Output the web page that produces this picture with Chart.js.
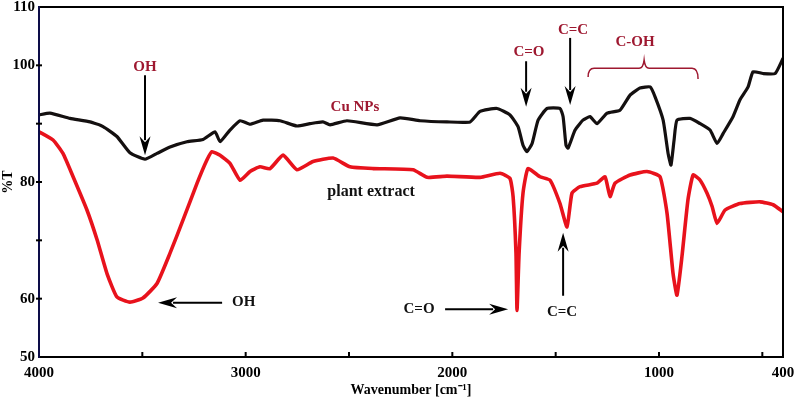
<!DOCTYPE html>
<html>
<head>
<meta charset="utf-8">
<script src="https://cdn.jsdelivr.net/npm/chart.js@4"></script>
<style>
html,body{margin:0;padding:0;background:#fff;}
canvas{display:block;}
</style>
</head>
<body>
<canvas id="c" width="794" height="399"></canvas>
<script>
// ---- data ----
const cuWavenumber = [4000,3947,3850,3753,3690,3623,3560,3487,3429,3366,3284,3206,3148,3124,3076,3027,2979,2916,2834,2752,2689,2626,2592,2510,2364,2253,2156,2026,1914,1866,1784,1721,1682,1658,1639,1614,1585,1542,1479,1464,1450,1440,1406,1368,1334,1300,1251,1189,1140,1092,1043,1019,980,956,942,927,913,850,801,753,719,690,642,608,569,545,497,438,400];
const cuTransmittance = [91.5,91.8,90.9,90.3,89.5,87.8,85.0,83.9,84.9,86.0,86.9,87.3,88.6,86.9,88.9,90.5,89.9,90.6,90.5,89.6,90.0,90.3,89.8,90.5,89.8,91.0,90.5,90.3,90.3,92.1,92.6,91.5,89.5,86.3,85.2,86.6,90.6,92.6,92.6,91.2,86.3,85.8,88.9,90.6,91.2,90.0,91.8,92.3,94.9,96.1,96.3,94.6,90.6,84.9,82.9,87.2,90.6,90.9,90.0,88.9,86.6,88.3,91.2,94.1,96.3,98.9,98.6,98.6,101.2];

const plantWavenumber = [4000,3932,3884,3835,3768,3719,3671,3623,3560,3497,3429,3366,3303,3235,3187,3163,3124,3076,3027,2979,2931,2882,2819,2752,2674,2577,2495,2384,2190,2122,2026,1866,1769,1721,1706,1692,1687,1677,1658,1634,1576,1527,1479,1445,1421,1382,1300,1261,1237,1213,1140,1058,995,961,932,913,889,860,835,801,768,743,719,680,608,511,448,400];
const plantTransmittance = [88.6,87.2,84.9,80.9,75.2,70.1,64.3,60.3,59.4,60.1,62.6,67.8,73.5,79.8,83.8,85.2,84.6,83.2,80.3,81.8,82.6,82.3,84.6,82.1,83.5,84.1,82.6,82.3,82.1,80.8,81.0,80.8,81.5,80.6,77.5,67.8,58.0,67.8,78.1,82.3,80.9,80.3,76.3,72.3,78.1,79.2,79.8,80.9,77.5,79.8,81.2,81.8,80.9,74.6,64.3,60.6,67.2,76.9,81.2,80.3,78.1,75.8,72.9,75.2,76.3,76.6,76.1,74.9];

const xTickValues = [4000,3500,3000,2500,2000,1500,1000,500,400];
const xTickLabels = [4000,3000,2000,1000,400];
const yTickLabels = [50,60,80,100,110];

const seriesNames = ['Cu NPs','plant extract'];

// annotations in data units (wavenumber, %T)
const textNotes = [
  {text:'OH', x:3487, y:99.7, color:'#9e1830', align:'center'},
  {text:'Cu NPs', x:2471, y:92.9, color:'#9e1830', align:'center'},
  {text:'plant extract', x:2393, y:78.3, color:'#111', align:'center', size:16},
  {text:'OH', x:3066, y:59.4, color:'#111', align:'left'},
  {text:'C=O', x:2161, y:58.2, color:'#111', align:'center'},
  {text:'C=C', x:1469, y:57.7, color:'#111', align:'center'},
  {text:'C=O', x:1629, y:102.3, color:'#9e1830', align:'center'},
  {text:'C=C', x:1416, y:106.1, color:'#9e1830', align:'center'},
  {text:'C-OH', x:1116, y:104.0, color:'#9e1830', align:'center'}
];
const arrowNotes = [
  {x1:3487, y1:98.3, x2:3487, y2:84.6},
  {x1:3114, y1:59.3, x2:3424, y2:59.3},
  {x1:2035, y1:58.2, x2:1730, y2:58.2},
  {x1:1464, y1:60.5, x2:1464, y2:71.3},
  {x1:1643, y1:100.7, x2:1643, y2:92.9},
  {x1:1430, y1:104.7, x2:1430, y2:93.2}
];
const braceNote = {left:1343, right:811, mid:1072, y:99.5, end:98.0, peak:100.9};

const toPoints = (xs, ys) => xs.map((x,i)=>({x:x, y:ys[i]}));

const FONT = '"Liberation Serif", "Times New Roman", serif';

const notesPlugin = {
  id:'notes',
  afterDraw(chart){
    const ctx = chart.ctx, xs = chart.scales.x, ys = chart.scales.y;
    const a = chart.chartArea;
    ctx.save();
    // frame
    ctx.lineWidth = 2;
    ctx.strokeStyle = '#000';
    ctx.beginPath();
    ctx.moveTo(a.left, a.top); ctx.lineTo(a.right, a.top); ctx.lineTo(a.right, a.bottom); ctx.lineTo(a.left, a.bottom);
    ctx.stroke();
    ctx.strokeStyle = '#0d0d48';
    ctx.beginPath(); ctx.moveTo(a.left, a.top-1); ctx.lineTo(a.left, a.bottom+1); ctx.stroke();
    // inward ticks
    ctx.strokeStyle = '#000';
    ctx.lineWidth = 2;
    xs.ticks.forEach(t=>{
      const px = xs.getPixelForValue(t.value);
      if (px <= a.left+2 || px >= a.right-2) return;
      ctx.beginPath(); ctx.moveTo(px, a.bottom); ctx.lineTo(px, a.bottom-5); ctx.stroke();
    });
    ys.ticks.forEach(t=>{
      const py = ys.getPixelForValue(t.value);
      if (py <= a.top+2 || py >= a.bottom-2) return;
      ctx.beginPath(); ctx.moveTo(a.left-3, py); ctx.lineTo(a.left+3, py); ctx.stroke();
    });
    // texts
    ctx.textBaseline = 'middle';
    textNotes.forEach(n=>{
      ctx.font = 'bold ' + (n.size||15) + 'px ' + FONT;
      ctx.fillStyle = n.color;
      ctx.textAlign = n.align;
      ctx.fillText(n.text, xs.getPixelForValue(n.x), ys.getPixelForValue(n.y));
    });
    // arrows
    ctx.strokeStyle = '#000'; ctx.fillStyle = '#000'; ctx.lineWidth = 2;
    arrowNotes.forEach(n=>{
      const x1 = xs.getPixelForValue(n.x1), y1 = ys.getPixelForValue(n.y1);
      const x2 = xs.getPixelForValue(n.x2), y2 = ys.getPixelForValue(n.y2);
      const ang = Math.atan2(y2-y1, x2-x1);
      const L = 19, W = 5.5;
      const bx = x2 - L*Math.cos(ang), by = y2 - L*Math.sin(ang);
      ctx.beginPath(); ctx.moveTo(x1,y1); ctx.lineTo(bx + 4*Math.cos(ang), by + 4*Math.sin(ang)); ctx.stroke();
      ctx.beginPath();
      ctx.moveTo(x2,y2);
      ctx.lineTo(bx - W*Math.sin(ang), by + W*Math.cos(ang));
      ctx.lineTo(bx + 6*Math.cos(ang), by + 6*Math.sin(ang));
      ctx.lineTo(bx + W*Math.sin(ang), by - W*Math.cos(ang));
      ctx.closePath(); ctx.fill();
    });
    // brace
    const bl = xs.getPixelForValue(braceNote.left), br = xs.getPixelForValue(braceNote.right);
    const bm = xs.getPixelForValue(braceNote.mid);
    const by = ys.getPixelForValue(braceNote.y), be = ys.getPixelForValue(braceNote.end), bp = ys.getPixelForValue(braceNote.peak);
    ctx.strokeStyle = '#9e1830'; ctx.lineWidth = 1.5;
    ctx.beginPath();
    ctx.moveTo(bl, be);
    ctx.quadraticCurveTo(bl, by, bl+6, by);
    ctx.lineTo(bm-5, by);
    ctx.quadraticCurveTo(bm-1, by, bm, bp);
    ctx.quadraticCurveTo(bm+1, by, bm+5, by);
    ctx.lineTo(br-6, by);
    ctx.quadraticCurveTo(br, by, br, be+2);
    ctx.stroke();
    ctx.restore();
  }
};

new Chart(document.getElementById('c'), {
  type:'line',
  data:{
    datasets:[
      {label:seriesNames[0], data:toPoints(cuWavenumber, cuTransmittance), borderColor:'#141010', borderWidth:3.2, pointRadius:0, tension:0.15, fill:false},
      {label:seriesNames[1], data:toPoints(plantWavenumber, plantTransmittance), borderColor:'#e8121c', borderWidth:3.6, pointRadius:0, tension:0.15, fill:false}
    ]
  },
  options:{
    responsive:false,
    animation:false,
    devicePixelRatio:1,
    layout:{padding:{left:0, right:11, top:7, bottom:0}},
    plugins:{legend:{display:false}, tooltip:{enabled:false}},
    scales:{
      x:{
        type:'linear', reverse:true, min:400, max:4000,
        afterBuildTicks(s){ s.ticks = xTickValues.map(v=>({value:v})); },
        afterFit(s){ s.height = 42; s.paddingLeft = 0; s.paddingRight = 0; },
        grid:{display:false, drawTicks:false},
        border:{display:false},
        ticks:{
          autoSkip:false, maxRotation:0, padding:7, color:'#000',
          font:{family:FONT, size:15, weight:'bold'},
          callback:(v)=> xTickLabels.includes(v) ? String(v) : ''
        },
        title:{display:true, text:'Wavenumber [cm\u207B\u00B9]', color:'#000', padding:{top:0,bottom:0}, font:{family:FONT, size:14, weight:'bold'}}
      },
      y:{
        type:'linear', min:50, max:110,
        afterBuildTicks(s){ const t=[]; for(let v=50; v<=110; v+=10) t.push({value:v}); s.ticks=t; },
        afterFit(s){ s.width = 39; s.paddingTop = 0; s.paddingBottom = 0; },
        grid:{display:false, drawTicks:false},
        border:{display:false},
        ticks:{
          padding:4, color:'#000',
          font:{family:FONT, size:15, weight:'bold'},
          callback:(v)=> yTickLabels.includes(v) ? String(v) : ''
        },
        title:{display:true, text:'%T', color:'#000', padding:{top:0,bottom:0}, font:{family:FONT, size:14, weight:'bold'}}
      }
    }
  },
  plugins:[notesPlugin]
});
</script>
</body>
</html>
